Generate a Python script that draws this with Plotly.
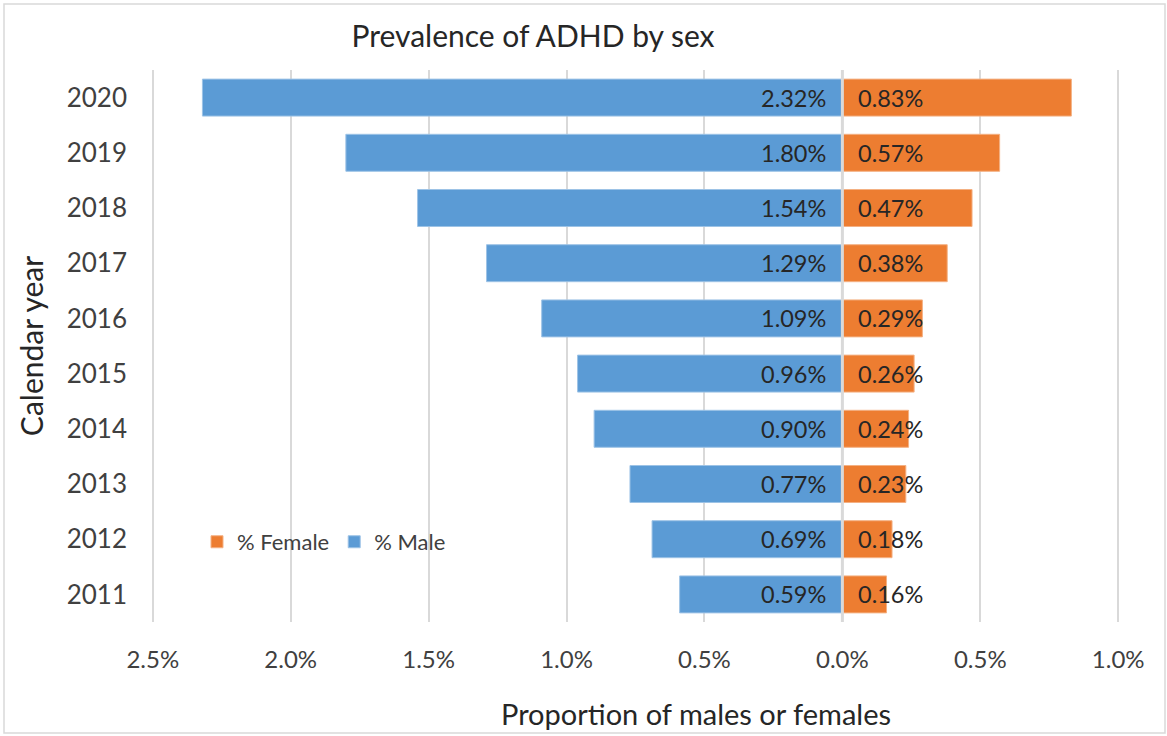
import plotly.graph_objects as go

years = ["2011", "2012", "2013", "2014", "2015", "2016", "2017", "2018", "2019", "2020"]
male_pct = [0.59, 0.69, 0.77, 0.90, 0.96, 1.09, 1.29, 1.54, 1.80, 2.32]
female_pct = [0.16, 0.18, 0.23, 0.24, 0.26, 0.29, 0.38, 0.47, 0.57, 0.83]
tick_vals = [-2.5, -2.0, -1.5, -1.0, -0.5, 0.0, 0.5, 1.0]
tick_text = ["2.5%", "2.0%", "1.5%", "1.0%", "0.5%", "0.0%", "0.5%", "1.0%"]

FONT = "Lato"
BLUE = "#5B9BD5"
ORANGE = "#ED7D31"

fig = go.Figure()
fig.add_trace(go.Bar(
    y=years, x=female_pct, orientation="h", name="% Female",
    marker=dict(color=ORANGE, line=dict(color="#F4B183", width=1)),
    hoverinfo="skip",
))
fig.add_trace(go.Bar(
    y=years, x=[-v for v in male_pct], orientation="h", name="% Male",
    marker=dict(color=BLUE, line=dict(color="#9DC3E6", width=1)),
    hoverinfo="skip",
))

for i, (m, f) in enumerate(zip(male_pct, female_pct)):
    fig.add_annotation(x=0, y=i, text=f"{m:.2f}%", showarrow=False,
                       xanchor="right", xshift=-14,
                       font=dict(family=FONT, size=23.5, color="#262626"))
    fig.add_annotation(x=0, y=i, text=f"{f:.2f}%", showarrow=False,
                       xanchor="left", xshift=14,
                       font=dict(family=FONT, size=23.5, color="#262626"))

L, T, R, B = 150, 70, 46, 114
W, H = 1167, 736
pw, ph = W - L - R, H - T - B

# outer chart border
fig.add_shape(type="rect", xref="paper", yref="paper",
              x0=(4 - L) / pw, x1=(W - 2 - L) / pw,
              y0=-(B - 3) / ph, y1=(ph + T - 4) / ph,
              line=dict(color="#D9D9D9", width=1.5), fillcolor="rgba(0,0,0,0)",
              layer="below")
# vertical category axis line at zero
fig.add_shape(type="line", xref="x", yref="paper", x0=0, x1=0, y0=0, y1=1,
              line=dict(color="#D9D9D9", width=3), layer="above")

# x-axis title (offset to the right as in the original)
fig.add_annotation(xref="paper", yref="paper", x=(696 - L) / pw, y=-(713 - (T + ph)) / ph,
                   text="Proportion of males or females", showarrow=False,
                   xanchor="center", yanchor="middle",
                   font=dict(family=FONT, size=29, color="#262626"))

fig.update_layout(
    width=W, height=H,
    margin=dict(l=L, r=R, t=T, b=B),
    paper_bgcolor="white", plot_bgcolor="white",
    barmode="relative", bargap=0.33,
    font=dict(family=FONT, color="#404040"),
    title=dict(text="Prevalence of ADHD by sex", x=533 / W, xref="container",
               xanchor="center", y=1 - 36 / H, yanchor="middle",
               font=dict(family=FONT, size=30, color="#262626")),
    legend=dict(orientation="h", x=(197 - L) / pw, y=0.145, xanchor="left", yanchor="middle",
                font=dict(family=FONT, size=22, color="#404040"),
                bgcolor="rgba(0,0,0,0)", traceorder="normal"),
    showlegend=True,
)
fig.update_xaxes(
    range=[-2.51, 1.01], tickvals=tick_vals, ticktext=tick_text,
    showgrid=True, gridcolor="#D9D9D9", gridwidth=2, zeroline=False,
    tickfont=dict(family=FONT, size=24, color="#404040"),
    ticklabelstandoff=21,
    fixedrange=True,
)
fig.update_yaxes(
    type="category", categoryorder="array", categoryarray=years,
    range=[-0.5, len(years) - 0.5],
    showgrid=False, zeroline=False,
    tickfont=dict(family=FONT, size=26, color="#404040"),
    ticklabelstandoff=22,
    title=dict(text="Calendar year", standoff=14,
               font=dict(family=FONT, size=30, color="#262626")),
    fixedrange=True,
)

fig.write_html("out.html", config={"displayModeBar": False},
               post_script="document.body.style.margin='0';")
